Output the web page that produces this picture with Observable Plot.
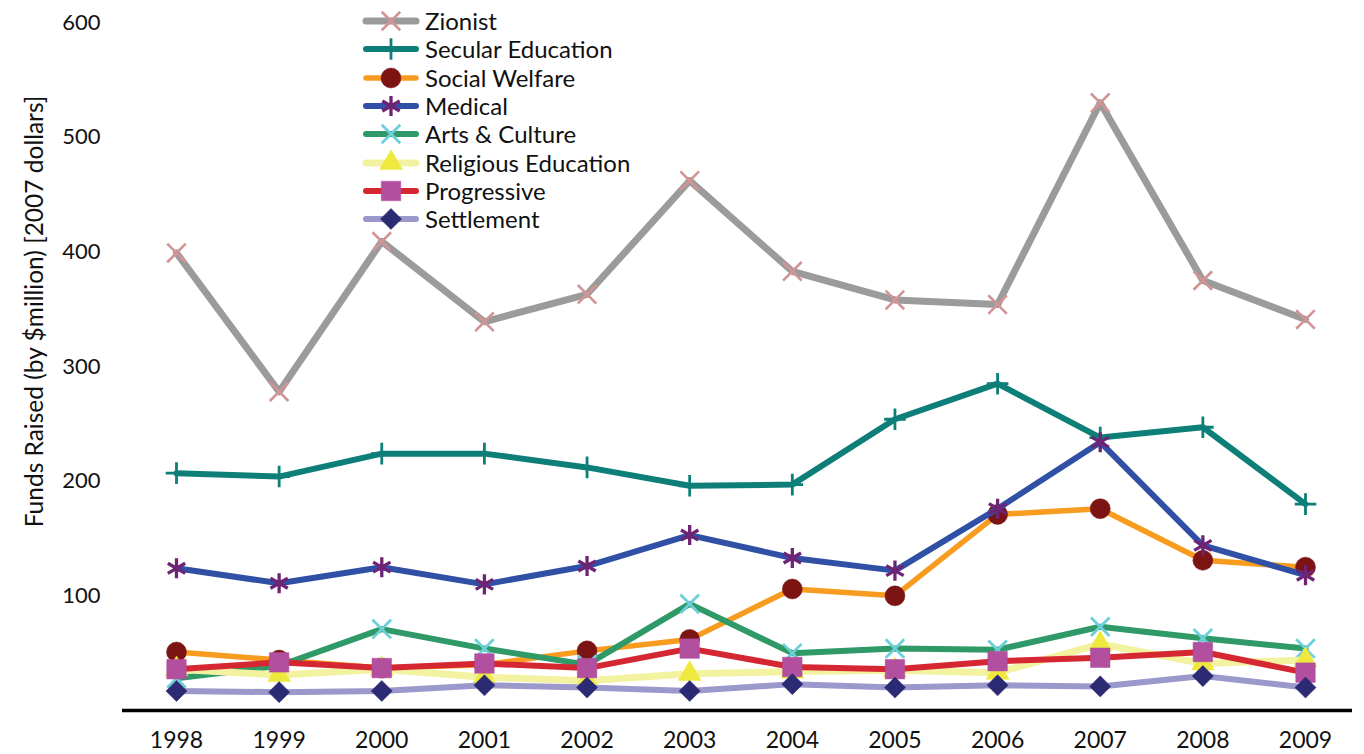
<!DOCTYPE html>
<html>
<head>
<meta charset="utf-8">
<script src="https://cdn.jsdelivr.net/npm/d3@7"></script>
<script src="https://cdn.jsdelivr.net/npm/@observablehq/plot@0.6"></script>
<style>
  body { margin: 0; background: #fff; font-family: Lato, "Open Sans", sans-serif; }
  #wrap { position: relative; width: 1364px; height: 754px; }
  #legend { position: absolute; left: 362px; top: 7px; font-size: 24px; color: #111; }
  .row { display: flex; align-items: center; height: 28.3px; }
  .row span { margin-left: 5px; line-height: 1; }
</style>
</head>
<body>
<div id="wrap"><div id="legend"></div></div>
<script>
// ---- data ----
const years = [1998, 1999, 2000, 2001, 2002, 2003, 2004, 2005, 2006, 2007, 2008, 2009];
const seriesNames = ["Zionist", "Secular Education", "Social Welfare", "Medical", "Arts & Culture", "Religious Education", "Progressive", "Settlement"];
const zionist            = [399, 278, 409, 339, 363, 462, 383, 358, 354, 530, 375, 341];
const secularEducation   = [207, 204, 224, 224, 212, 196, 197, 254, 285, 238, 247, 180];
const socialWelfare      = [51, 44, 37, 40, 52, 62, 106, 100, 171, 176, 131, 125];
const medical            = [124, 111, 125, 110, 126, 153, 133, 122, 176, 234, 144, 118];
const artsCulture        = [28, 39, 71, 54, 40, 93, 50, 54, 53, 73, 63, 54];
const religiousEducation = [36, 31, 36, 29, 26, 32, 34, 35, 33, 58, 41, 44];
const progressive        = [36, 42, 37, 41, 37, 54, 38, 36, 43, 46, 51, 33];
const settlement         = [17, 16, 17, 22, 20, 17, 23, 20, 22, 21, 30, 20];
const yTicks = [100, 200, 300, 400, 500, 600];
const yLabel = "Funds Raised (by $million) [2007 dollars]";

const seriesValues = [zionist, secularEducation, socialWelfare, medical, artsCulture, religiousEducation, progressive, settlement];

// ---- styles ----
const styles = [
  {line: "#9b9b9b", mark: "#d29494", symbol: "times",    r: 8.5, stroked: true,  sw: 2.6, lw: 7},
  {line: "#0e7f78", mark: "#0e7f78", symbol: "plus",     r: 7,   stroked: true,  sw: 2.8, lw: 6},
  {line: "#f89c20", mark: "#7d1414", symbol: "circle",   r: 10,  stroked: false, sw: 0,   lw: 5.5},
  {line: "#3050a6", mark: "#6e2475", symbol: "asterisk", r: 9.5, stroked: true,  sw: 3.3, lw: 6},
  {line: "#2f9a68", mark: "#6dcfd9", symbol: "times",    r: 8.5, stroked: true,  sw: 2.8, lw: 6},
  {line: "#f3f2a0", mark: "#efe93f", symbol: "triangle", r: 8.5, stroked: false, sw: 0,   lw: 7},
  {line: "#d52731", mark: "#b24f9e", symbol: "square",   r: 11,  stroked: false, sw: 0,   lw: 6},
  {line: "#9b98cb", mark: "#2b2a72", symbol: "diamond2", r: 9.5, stroked: false, sw: 0,   lw: 6}
];

const table = seriesNames.flatMap((name, i) => years.map((year, j) => ({series: name, year, value: seriesValues[i][j]})));

const marks = [];
seriesNames.forEach((name, i) => {
  const s = styles[i];
  const d = table.filter(r => r.series === name);
  marks.push(Plot.line(d, {x: "year", y: "value", stroke: s.line, strokeWidth: s.lw, strokeLinejoin: "round", strokeLinecap: "round"}));
  if (s.stroked) {
    marks.push(Plot.dot(d, {x: "year", y: "value", symbol: () => s.symbol, r: s.r, stroke: s.mark, strokeWidth: s.sw, fill: "none"}));
  } else {
    marks.push(Plot.dot(d, {x: "year", y: "value", symbol: () => s.symbol, r: s.r, fill: s.mark, stroke: s.mark, strokeWidth: 0.5}));
  }
});

const chart = Plot.plot({
  width: 1364,
  height: 754,
  marginLeft: 122,
  marginRight: 12,
  marginTop: 22,
  marginBottom: 44,
  style: {fontFamily: "Lato, 'Open Sans', sans-serif", fontSize: "22px", color: "#111", background: "#fff"},
  x: {type: "linear", domain: [1998, 2009], insetLeft: 54, insetRight: 47},
  y: {domain: [0, 600]},
  symbol: {type: "identity"},
  marks: [
    Plot.axisX({ticks: years, tickFormat: d => String(d), tickSize: 0, tickPadding: 21, label: null, fontSize: 23}),
    Plot.axisY({ticks: yTicks, tickSize: 0, tickPadding: 22, label: null, fontSize: 22}),
    ...marks,
    Plot.ruleY([0], {stroke: "#000", strokeWidth: 3.5}),
    Plot.text([yLabel], {frameAnchor: "left", textAnchor: "middle", rotate: -90, dx: -87, dy: -55, fontSize: 24.5, fill: "#111"})
  ]
});
document.getElementById("wrap").prepend(chart);

// ---- legend (HTML overlay) ----
const symMap = {times: d3.symbolTimes, plus: d3.symbolPlus, circle: d3.symbolCircle, asterisk: d3.symbolAsterisk, triangle: d3.symbolTriangle, square: d3.symbolSquare, diamond2: d3.symbolDiamond2};
const legend = d3.select("#legend");
seriesNames.forEach((name, i) => {
  const s = styles[i];
  const row = legend.append("div").attr("class", "row");
  const svg = row.append("svg").attr("width", 58).attr("height", 28);
  svg.append("line").attr("x1", 4).attr("x2", 54).attr("y1", 14).attr("y2", 14)
    .attr("stroke", s.line).attr("stroke-width", s.lw).attr("stroke-linecap", "round");
  const p = d3.symbol().type(symMap[s.symbol]).size(Math.PI * s.r * s.r)();
  const path = svg.append("path").attr("d", p).attr("transform", "translate(29,14)");
  if (s.stroked) path.attr("fill", "none").attr("stroke", s.mark).attr("stroke-width", s.sw);
  else path.attr("fill", s.mark).attr("stroke", s.mark).attr("stroke-width", 0.5);
  row.append("span").text(name);
});
</script>
</body>
</html>
